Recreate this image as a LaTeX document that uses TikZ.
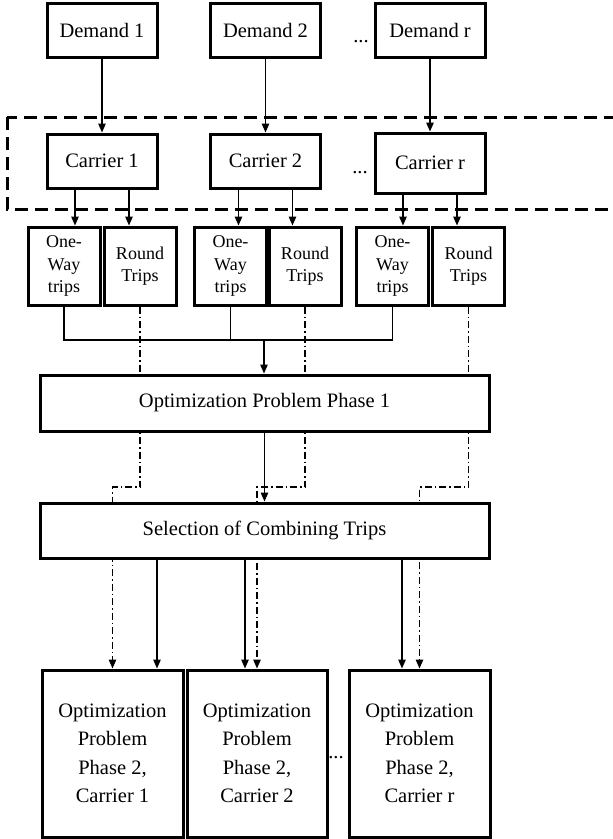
\documentclass[tikz,border=0pt]{standalone}
\usepackage{fontspec}
\setmainfont{Liberation Serif}
\usetikzlibrary{arrows.meta,backgrounds}

\begin{document}
\begin{tikzpicture}[x=1pt,y=-1pt,
    box/.style={draw,line width=3pt,fill=white,minimum width=110pt,minimum height=54pt,font=\fontsize{20.5}{24}\selectfont},
    tripbox/.style={draw,line width=3pt,fill=white,minimum width=72pt,minimum height=78pt,inner sep=1pt,align=center,font=\fontsize{18}{22.5}\selectfont},
    widebox/.style={draw,line width=3pt,fill=white,minimum width=449pt,minimum height=56pt,font=\fontsize{20.5}{24}\selectfont},
    tallbox/.style={draw,line width=3pt,fill=white,minimum width=141pt,minimum height=167pt,align=center,font=\fontsize{20.5}{28.5}\selectfont},
    dots/.style={anchor=base,inner sep=0pt,font=\fontsize{20.5}{24}\selectfont},
    arr/.style={line width=1.3pt,-{Triangle[length=9pt,width=7.5pt]}},
    dd/.style={line width=1.3pt,dash pattern=on 7pt off 3pt on 1.5pt off 3pt}]
    \useasboundingbox(0,0)rectangle(613,839);

    % demands and carriers
    \node[box](d1)at(102,30.5){Demand 1};
    \node[box](d2)at(265.5,30.5){Demand 2};
    \node[box](dr)at(430,30.5){Demand r};
    \node[dots]at(361,42){...};

    \draw[line width=3pt,dash pattern=on 13pt off 7pt](7,117)rectangle(630,209);
    \node[box](c1)at(102,161){Carrier 1};
    \node[box](c2)at(265.5,161){Carrier 2};
    \node[box,minimum height=60pt](cr)at(430,163){Carrier r};
    \node[dots]at(360,173){...};

    \draw[arr](d1)--(c1);
    \draw[arr](d2)--(c2);
    \draw[arr](dr)--(cr);

    % trips
    \node[tripbox](ow1)at(64,266){One-\\Way\\trips};
    \node[tripbox](rt1)at(140,266){Round\\Trips};
    \node[tripbox](ow2)at(230.5,266){One-\\Way\\trips};
    \node[tripbox](rt2)at(305,266){Round\\Trips};
    \node[tripbox](owr)at(392.5,266){One-\\Way\\trips};
    \node[tripbox](rtr)at(468.5,266){Round\\Trips};

    \foreach \i in {1,2,r}{
        \draw[arr]([xshift=-27pt]c\i.south)--([xshift=-27pt]c\i.south|-ow\i.north);
        \draw[arr]([xshift=27pt]c\i.south)--([xshift=27pt]c\i.south|-rt\i.north);
    }

    % phases
    \node[widebox](p1)at(264.5,403){Optimization Problem Phase 1};
    \node[widebox,minimum height=55pt](s)at(264.5,530.5){Selection of Combining Trips};

    \node[tallbox](q1)at(112.5,753.5){Optimization\\Problem\\Phase 2,\\Carrier 1};
    \node[tallbox,minimum width=140pt](q2)at(257,753.5){Optimization\\Problem\\Phase 2,\\Carrier 2};
    \node[tallbox](qr)at(419.5,753.5){Optimization\\Problem\\Phase 2,\\Carrier r};
    \node[dots]at(336,758){...};

    \coordinate(m)at(264,340);
    \coordinate(j)at(0,487);
    \draw[line width=1.3pt](ow1.south)--(ow1.south|-m)--(owr.south|-m)--(owr.south);
    \draw[line width=1.3pt](ow2.south)--(ow2.south|-m);
    \draw[arr](m)--(m|-p1.north);
    \draw[arr](p1)--(s);

    \begin{scope}[on background layer]
        \draw[arr,dd](rt1.south)|-(q1.north|-j)--(q1.north);
        \draw[arr,dd](rt2.south)|-(q2.north|-j)--(q2.north);
        \draw[arr,dd](rtr.south)|-(qr.north|-j)--(qr.north);
    \end{scope}

    \draw[arr]([xshift=44.5pt]q1.north|-s.south)--([xshift=44.5pt]q1.north);
    \draw[arr]([xshift=-12pt]q2.north|-s.south)--([xshift=-12pt]q2.north);
    \draw[arr]([xshift=-17.5pt]qr.north|-s.south)--([xshift=-17.5pt]qr.north);
\end{tikzpicture}
\end{document}
